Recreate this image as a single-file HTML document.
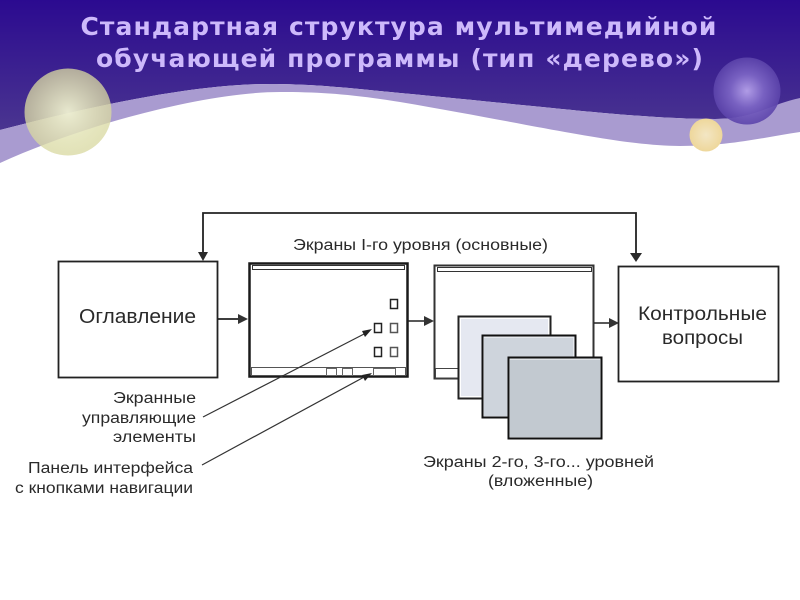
<!DOCTYPE html>
<html><head><meta charset="utf-8"><style>
html,body{margin:0;padding:0;background:#fff}
svg{display:block}
text{font-family:"Liberation Sans",sans-serif;fill:#2a2a2a}
.t{font-family:"DejaVu Sans",sans-serif;font-weight:bold;font-size:25px;fill:#cdb9fb;letter-spacing:1.1px;text-anchor:middle}
.l{font-size:15.5px}
</style></head><body>
<svg width="800" height="600" viewBox="0 0 800 600" xmlns="http://www.w3.org/2000/svg">
<defs>
<linearGradient id="bg" x1="0" y1="0" x2="0" y2="1"><stop offset="0" stop-color="#2b0a90"/><stop offset="1" stop-color="#4a3590"/></linearGradient>
<radialGradient id="a"><stop offset="0" stop-color="#f0f2d2" stop-opacity=".95"/><stop offset="1" stop-color="#d8d8a0" stop-opacity=".76"/></radialGradient>
<radialGradient id="b"><stop offset="0" stop-color="#b09ce6"/><stop offset=".5" stop-color="#7b64c4" stop-opacity=".95"/><stop offset="1" stop-color="#5c44ab" stop-opacity=".9"/></radialGradient>
<radialGradient id="c"><stop offset="0" stop-color="#f3e6c4"/><stop offset="1" stop-color="#eed79b"/></radialGradient>
</defs>
<path d="M0 0H800V100C770 104 755 119 715 119C640 119 560 108 400 93C340 87 310 84 270 84C190 84 90 107 0 130z" fill="url(#bg)"/>
<path d="M0 130C90 107 190 84 270 84C310 84 340 87 400 93C560 108 640 119 715 119C755 119 770 104 800 98V132C760 138 730 146 680 146C620 146 530 124 400 102C350 94 320 92 280 92C210 92 90 122 0 163z" fill="#a99bd0"/>
<circle cx="68" cy="112" r="43.5" fill="url(#a)"/>
<circle cx="747" cy="91" r="33.5" fill="url(#b)"/>
<circle cx="706" cy="135" r="16.5" fill="url(#c)"/>
<text class="t" x="399" y="35">Стандартная структура мультимедийной</text>
<text class="t" x="400" y="67">обучающей программы (тип «дерево»)</text>

<path d="M203 254V213H636V255" fill="none" stroke="#222" stroke-width="1.800"/>
<path d="M203 261L198 252H208zM636 262L630 253H642z" fill="#2a2a2a"/>

<rect x="58.500" y="261.500" width="159" height="116" fill="#fff" stroke="#222" stroke-width="1.800"/>
<text x="79" y="323" font-size="20" textLength="117" lengthAdjust="spacingAndGlyphs">Оглавление</text>
<path d="M218 319H240" stroke="#222" stroke-width="1.800"/><path d="M248 319L238 314V324z" fill="#333"/>

<rect x="249.500" y="263.500" width="158" height="113" fill="#fff" stroke="#1a1a1a" stroke-width="2.500"/>
<rect x="252.500" y="265.500" width="152" height="4" fill="#fff" stroke="#333"/>
<rect x="251.500" y="367.500" width="154" height="8" fill="#fff" stroke="#555"/>
<g fill="#fff" stroke="#222" stroke-width="1.500">
<rect x="390.500" y="299.500" width="7" height="9"/><rect x="374.500" y="323.500" width="7" height="9"/><rect x="390.500" y="323.500" width="7" height="9" stroke="#555"/><rect x="374.500" y="347.500" width="7" height="9"/><rect x="390.500" y="347.500" width="7" height="9" stroke="#555"/>
</g>
<g fill="#fff" stroke="#666"><rect x="326.500" y="368.500" width="10" height="7"/><rect x="342.500" y="368.500" width="10" height="7"/><rect x="373.500" y="368.500" width="22" height="7"/></g>
<path d="M408 321H426" stroke="#222" stroke-width="1.500"/><path d="M434 321L424 316V326z" fill="#333"/>

<rect x="434.500" y="265.500" width="159" height="113" fill="#fff" stroke="#333" stroke-width="2"/>
<rect x="437.500" y="267.500" width="154" height="4" fill="#fff" stroke="#333"/>
<rect x="435.500" y="368.500" width="25" height="9.500" fill="#fff" stroke="#444"/>
<rect x="458.500" y="316.500" width="92" height="82" fill="#fff" stroke="#222" stroke-width="2"/>
<rect x="461" y="319" width="87" height="77" fill="#e5e8f1"/>
<rect x="482.500" y="335.500" width="93" height="82" fill="#e6e9ee" stroke="#111" stroke-width="2"/>
<rect x="484" y="338" width="89" height="78" fill="#ced4dc"/>
<rect x="508.500" y="357.500" width="93" height="81" fill="#e0e3e7" stroke="#111" stroke-width="2"/>
<rect x="510" y="360" width="90" height="77" fill="#c2c9d0"/>
<path d="M594 323H611" stroke="#222" stroke-width="1.500"/><path d="M619 323L609 318V328z" fill="#333"/>

<rect x="618.500" y="266.500" width="160" height="115" fill="#fff" stroke="#222" stroke-width="1.800"/>
<text x="638" y="320" font-size="19.500" textLength="129" lengthAdjust="spacingAndGlyphs">Контрольные</text>
<text x="662" y="344" font-size="19.500" textLength="81" lengthAdjust="spacingAndGlyphs">вопросы</text>

<text class="l" x="293" y="250" textLength="255" lengthAdjust="spacingAndGlyphs">Экраны I-го уровня (основные)</text>
<text class="l" x="423" y="467" textLength="231" lengthAdjust="spacingAndGlyphs">Экраны 2-го, 3-го... уровней</text>
<text class="l" x="488" y="486" textLength="105" lengthAdjust="spacingAndGlyphs">(вложенные)</text>
<text class="l" x="113" y="403" textLength="83" lengthAdjust="spacingAndGlyphs">Экранные</text>
<text class="l" x="82" y="423" textLength="114" lengthAdjust="spacingAndGlyphs">управляющие</text>
<text class="l" x="113" y="442" textLength="83" lengthAdjust="spacingAndGlyphs">элементы</text>
<text class="l" x="28" y="473" textLength="165" lengthAdjust="spacingAndGlyphs">Панель интерфейса</text>
<text class="l" x="15" y="493" textLength="178" lengthAdjust="spacingAndGlyphs">с кнопками навигации</text>
<path d="M203 417L366 333" stroke="#333" stroke-width="1.200"/><path d="M372 329L362 331L365 337z" fill="#222"/>
<path d="M202 465L366 376" stroke="#333" stroke-width="1.200"/><path d="M372 373L362 375L365 381z" fill="#222"/>
</svg>
</body></html>
